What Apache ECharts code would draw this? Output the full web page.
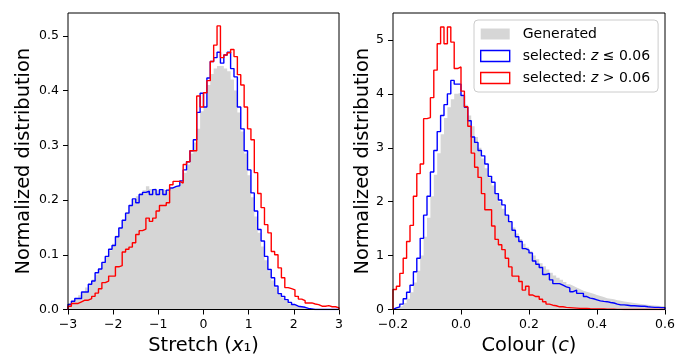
<!DOCTYPE html>
<html>
<head>
<meta charset="utf-8">
<script src="https://cdn.jsdelivr.net/npm/echarts@6.0.0/dist/echarts.min.js"></script>
<style>
  html, body { margin: 0; padding: 0; background: #fff; }
  #chart { width: 686px; height: 358px; }
</style>
</head>
<body>
<div id="chart"></div>
<script>
// bin layout of the two histograms (80 bins each)
const stretchStart = -3
const stretchWidth = 0.075
const colourStart = -0.2
const colourWidth = 0.01

// left panel: stretch x1
const stretchGenerated = [
  0.012, 0.016, 0.021, 0.026, 0.032, 0.040, 0.046, 0.055, 0.064, 0.074,
  0.085, 0.096, 0.108, 0.120, 0.135, 0.150, 0.163, 0.178, 0.190, 0.200,
  0.207, 0.213, 0.218, 0.225, 0.220, 0.222, 0.218, 0.220, 0.218, 0.220,
  0.222, 0.225, 0.228, 0.235, 0.250, 0.265, 0.285, 0.305, 0.330, 0.362,
  0.370, 0.410, 0.430, 0.440, 0.445, 0.445, 0.440, 0.435, 0.420, 0.400,
  0.360, 0.325, 0.285, 0.245, 0.205, 0.170, 0.140, 0.115, 0.090, 0.070,
  0.053, 0.040, 0.030, 0.022, 0.016, 0.011, 0.008, 0.006, 0.004, 0.003,
  0.002, 0.001, 0.001, 0, 0, 0, 0, 0, 0, 0
]
const stretchLow = [
  0.009, 0.015, 0.020, 0.020, 0.032, 0.032, 0.046, 0.052, 0.067, 0.074,
  0.086, 0.097, 0.110, 0.117, 0.133, 0.149, 0.163, 0.176, 0.190, 0.202,
  0.195, 0.210, 0.214, 0.216, 0.210, 0.219, 0.210, 0.219, 0.210, 0.218,
  0.222, 0.225, 0.226, 0.235, 0.255, 0.270, 0.290, 0.310, 0.360, 0.395,
  0.370, 0.423, 0.453, 0.460, 0.470, 0.450, 0.465, 0.470, 0.440, 0.425,
  0.370, 0.330, 0.290, 0.255, 0.213, 0.180, 0.146, 0.125, 0.097, 0.073,
  0.058, 0.043, 0.029, 0.024, 0.018, 0.013, 0.009, 0.006, 0.005, 0.004,
  0.002, 0.001, 0, 0, 0, 0, 0, 0, 0, 0
]
const stretchHigh = [
  0.006, 0.011, 0.011, 0.014, 0.017, 0.017, 0.020, 0.024, 0.030, 0.038,
  0.049, 0.052, 0.061, 0.061, 0.078, 0.080, 0.105, 0.110, 0.114, 0.122,
  0.137, 0.144, 0.147, 0.167, 0.161, 0.167, 0.180, 0.190, 0.190, 0.195,
  0.228, 0.234, 0.234, 0.231, 0.265, 0.270, 0.290, 0.290, 0.390, 0.370,
  0.396, 0.418, 0.453, 0.483, 0.518, 0.460, 0.465, 0.469, 0.475, 0.462,
  0.429, 0.410, 0.370, 0.330, 0.310, 0.250, 0.212, 0.186, 0.155, 0.140,
  0.106, 0.100, 0.076, 0.058, 0.040, 0.038, 0.036, 0.024, 0.019, 0.016,
  0.012, 0.012, 0.010, 0.009, 0.006, 0.006, 0.007, 0.005, 0.005, 0.003
]

// right panel: colour c
const colourGenerated = [
  0.02, 0.04, 0.07, 0.12, 0.20, 0.32, 0.50, 0.72, 1.00, 1.35,
  1.70, 2.10, 2.50, 2.90, 3.25, 3.55, 3.75, 3.90, 4.00, 4.02,
  3.95, 3.80, 3.60, 3.40, 3.20, 3.00, 2.80, 2.62, 2.45, 2.30,
  2.15, 2.00, 1.87, 1.75, 1.63, 1.52, 1.41, 1.31, 1.22, 1.15,
  1.08, 1.00, 0.93, 0.86, 0.80, 0.74, 0.68, 0.63, 0.59, 0.55,
  0.51, 0.47, 0.44, 0.41, 0.38, 0.35, 0.33, 0.31, 0.29, 0.27,
  0.25, 0.23, 0.21, 0.20, 0.19, 0.17, 0.16, 0.15, 0.14, 0.13,
  0.12, 0.11, 0.10, 0.095, 0.09, 0.08, 0.075, 0.07, 0.065, 0.06
]
const colourLow = [
  0.03, 0.05, 0.10, 0.20, 0.32, 0.45, 0.70, 0.95, 1.32, 1.75,
  2.10, 2.55, 2.95, 3.30, 3.60, 3.80, 4.00, 4.25, 4.18, 4.18,
  3.97, 3.75, 3.50, 3.20, 3.10, 2.95, 2.85, 2.70, 2.47, 2.36,
  2.15, 2.03, 1.94, 1.75, 1.63, 1.47, 1.35, 1.26, 1.13, 1.10,
  1.05, 0.90, 0.84, 0.78, 0.65, 0.67, 0.55, 0.48, 0.48, 0.45,
  0.42, 0.40, 0.33, 0.36, 0.30, 0.30, 0.24, 0.21, 0.20, 0.18,
  0.16, 0.15, 0.145, 0.13, 0.12, 0.10, 0.085, 0.085, 0.08, 0.07,
  0.07, 0.065, 0.06, 0.06, 0.05, 0.045, 0.04, 0.04, 0.035, 0.035
]
const colourHigh = [
  0.37, 0.43, 0.67, 0.95, 1.26, 1.56, 2.10, 2.52, 2.70, 3.54,
  3.56, 3.93, 4.44, 4.93, 5.24, 4.93, 5.24, 4.96, 4.47, 4.50,
  4.05, 3.76, 3.40, 2.90, 2.64, 2.45, 2.15, 1.85, 1.85, 1.55,
  1.30, 1.20, 1.11, 0.95, 0.79, 0.62, 0.62, 0.52, 0.36, 0.43,
  0.27, 0.24, 0.24, 0.19, 0.145, 0.10, 0.08, 0.07, 0.05, 0.05,
  0.04, 0.035, 0.03, 0.025, 0.02, 0.02, 0.02, 0.015, 0.012, 0.01,
  0.01, 0.008, 0.006, 0.005, 0.004, 0.003, 0.002, 0, 0, 0,
  0, 0, 0, 0, 0, 0, 0, 0, 0, 0
]

// tick labels
const stretchTicksY = [0, 0.1, 0.2, 0.3, 0.4, 0.5]
const colourTicksY = [0, 1, 2, 3, 4, 5]

const FONT = 'DejaVu Sans'
const GRAY = '#d6d6d6'

const legendText = {
  'Generated': 'Generated',
  'low': 'selected: {i|z} ≤ 0.06',
  'high': 'selected: {i|z} > 0.06'
}

// points for a step line: value i holds from edge i to edge i+1
function stepPoints(start, width, values, outline) {
  const pts = []
  if (outline) pts.push([start, 0])
  values.forEach((v, i) => {
    pts.push([+(start + i * width).toFixed(4), v])
  })
  pts.push([+(start + values.length * width).toFixed(4), 0])
  return pts
}

function signed(v, digits) {
  const s = Math.abs(v).toFixed(digits)
  return v < 0 ? '\u2212' + s : s
}

function xAxis(gridIndex, min, max, interval, digits, nameRich) {
  return {
    type: 'value', gridIndex, min, max, interval,
    name: nameRich, nameLocation: 'middle', nameGap: 25,
    nameTextStyle: {
      fontFamily: FONT, fontSize: 19.4, color: '#000',
      rich: { i: { fontFamily: FONT, fontSize: 19.4, fontStyle: 'italic', color: '#000' } }
    },
    axisLine: { show: false, onZero: false },
    axisTick: { show: true, inside: false, length: 5, lineStyle: { color: '#000', width: 1 } },
    axisLabel: { margin: 9, fontFamily: FONT, fontSize: 12.5, color: '#000', formatter: v => signed(v, digits) },
    splitLine: { show: false }
  }
}

function yAxis(gridIndex, max, ticks, digits, gap) {
  return {
    type: 'value', gridIndex, min: 0, max,
    name: 'Normalized distribution', nameLocation: 'middle', nameGap: gap,
    nameTextStyle: { fontFamily: FONT, fontSize: 19.4, color: '#000' },
    axisLine: { show: false, onZero: false },
    axisTick: { show: true, inside: false, length: 5, customValues: ticks, lineStyle: { color: '#000', width: 1 } },
    axisLabel: { margin: 9, fontFamily: FONT, fontSize: 12.5, color: '#000', customValues: ticks, formatter: v => v.toFixed(digits) },
    splitLine: { show: false }
  }
}

function histSeries(axis, start, width, gen, low, high) {
  return [
    {
      name: 'Generated', type: 'line', step: 'end', xAxisIndex: axis, yAxisIndex: axis,
      data: stepPoints(start, width, gen, false), symbol: 'none', silent: true,
      itemStyle: { color: GRAY }, lineStyle: { width: 0, color: GRAY },
      areaStyle: { color: GRAY, opacity: 1 }, z: 1
    },
    {
      name: 'low', type: 'line', step: 'end', xAxisIndex: axis, yAxisIndex: axis,
      data: stepPoints(start, width, low, true), symbol: 'none', silent: true,
      itemStyle: { color: '#0000ff' }, lineStyle: { width: 1.4, color: '#0000ff' }, z: 2
    },
    {
      name: 'high', type: 'line', step: 'end', xAxisIndex: axis, yAxisIndex: axis,
      data: stepPoints(start, width, high, true), symbol: 'none', silent: true,
      itemStyle: { color: '#ff0000' }, lineStyle: { width: 1.4, color: '#ff0000' }, z: 3
    }
  ]
}

const chart = echarts.init(document.getElementById('chart'), null, { renderer: 'canvas' })

const gridBase = {
  top: 13, bottom: 48.5, show: true, borderColor: '#000', borderWidth: 1,
  backgroundColor: 'transparent', z: 10, containLabel: false, outerBoundsMode: 'none'
}

const option = {
  animation: false,
  backgroundColor: '#fff',
  grid: [
    Object.assign({ left: 68, right: 347 }, gridBase),
    Object.assign({ left: 393, right: 21 }, gridBase)
  ],
  xAxis: [
    xAxis(0, -3, 3, 1, 0, 'Stretch ({i|x}\u2081)'),
    xAxis(1, -0.2, 0.6, 0.2, 1, 'Colour ({i|c})')
  ],
  yAxis: [
    yAxis(0, 0.5416, stretchTicksY, 1, 35),
    yAxis(1, 5.5, colourTicksY, 0, 20)
  ],
  legend: {
    orient: 'vertical', left: 474, top: 20,
    padding: [7, 8, 7, 6], itemGap: 8, itemWidth: 29, itemHeight: 11,
    backgroundColor: 'rgba(255,255,255,0.8)', borderColor: '#cccccc', borderWidth: 1, borderRadius: 4,
    selectedMode: false,
    formatter: name => legendText[name],
    textStyle: {
      fontFamily: FONT, fontSize: 14, color: '#000', lineHeight: 14, padding: [0, 0, 0, 8],
      rich: { i: { fontFamily: FONT, fontSize: 14, fontStyle: 'italic', color: '#000' } }
    },
    data: [
      { name: 'Generated', icon: 'rect', itemStyle: { color: GRAY, borderWidth: 0 } },
      { name: 'low', icon: 'rect', itemStyle: { color: 'rgba(0,0,0,0)', borderColor: '#0000ff', borderWidth: 1.4 } },
      { name: 'high', icon: 'rect', itemStyle: { color: 'rgba(0,0,0,0)', borderColor: '#ff0000', borderWidth: 1.4 } }
    ]
  },
  series: [
    ...histSeries(0, stretchStart, stretchWidth, stretchGenerated, stretchLow, stretchHigh),
    ...histSeries(1, colourStart, colourWidth, colourGenerated, colourLow, colourHigh)
  ]
}

chart.setOption(option)
</script>
</body>
</html>
